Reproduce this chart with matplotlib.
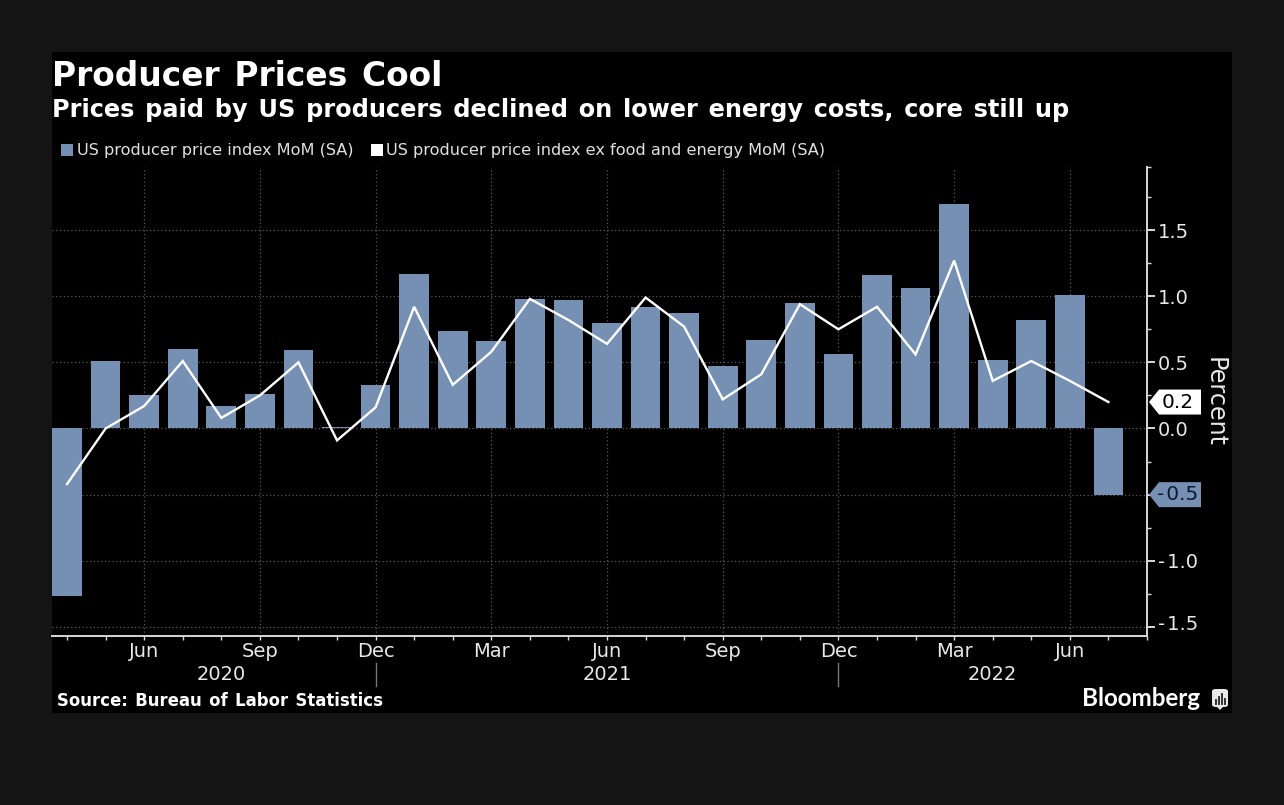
import matplotlib
matplotlib.use('Agg')
import matplotlib.pyplot as plt
from matplotlib.patches import Rectangle, Polygon, FancyBboxPatch
from matplotlib.lines import Line2D
from matplotlib.ticker import FixedLocator
from matplotlib.transforms import ScaledTranslation

W, H = 1284, 805

# monthly values, Apr 2020 to Jul 2022
ppi = [-1.27, 0.51, 0.25, 0.60, 0.17, 0.26, 0.59, 0.01, 0.33, 1.17, 0.74, 0.66, 0.98, 0.97,
       0.80, 0.92, 0.87, 0.47, 0.67, 0.95, 0.56, 1.16, 1.06, 1.70, 0.52, 0.82, 1.01, -0.50]
core = [-0.42, 0.0, 0.17, 0.51, 0.08, 0.25, 0.50, -0.09, 0.16, 0.92, 0.33, 0.58, 0.98, 0.82,
        0.64, 0.99, 0.77, 0.22, 0.41, 0.94, 0.75, 0.92, 0.56, 1.27, 0.36, 0.51, 0.36, 0.20]
month_pos = list(range(len(ppi)))
tick_pos = [2, 5, 8, 11, 14, 17, 20, 23, 26]
tick_labels = ['Jun', 'Sep', 'Dec', 'Mar', 'Jun', 'Sep', 'Dec', 'Mar', 'Jun']
y_ticks = [-1.5, -1.0, -0.5, 0.0, 0.5, 1.0, 1.5]
y_labels = ['-\u200a1.5', '-\u200a1.0', '', '0.0', '0.5', '1.0', '1.5']
y_minor = [-1.25, -0.75, -0.25, 0.25, 0.75, 1.25, 1.75, 1.977]
years = ['2020', '2021', '2022']
year_pixels = [221, 607, 992]
year_seps = [376, 838]

BLUE = '#7690b4'
LIGHT = '#d8d8d8'
GRID = '#5a5a5a'
HS = ' \u200a'

plt.rcParams['font.family'] = ['DejaVu Sans']
fig = plt.figure(figsize=(W / 100, H / 100), dpi=100, facecolor='#141414')


def ftext(x, y, s, **kw):
    return fig.text(x / W, 1 - y / H, s, **kw)


fig.patches.append(Rectangle((52 / W, 1 - 713 / H), 1180 / W, 661 / H, transform=fig.transFigure,
                             facecolor='black', edgecolor='none', zorder=-5))

ax = fig.add_axes([52 / W, 1 - 635.5 / H, 1095 / W, 468.5 / H], facecolor='black')
ax.bar(month_pos, ppi, width=0.77, color=BLUE, zorder=2)
ax.plot(month_pos, core, color='white', lw=1.7, zorder=3, solid_joinstyle='miter')
ax.set_xlim(-0.39, 28.0)
ax.set_ylim(-1.565, 1.977)

ax.yaxis.tick_right()
ax.set_yticks(y_ticks)
ax.set_yticklabels(y_labels)
ax.yaxis.set_minor_locator(FixedLocator(y_minor))
ax.tick_params(axis='y', which='major', length=6, width=1.4, color=LIGHT, labelcolor='#e8e8e8',
               labelsize=14, pad=2)
ax.tick_params(axis='y', which='minor', length=3, width=1, color=LIGHT)

ax.set_xticks(tick_pos)
ax.set_xticklabels(tick_labels)
ax.xaxis.set_minor_locator(FixedLocator(month_pos + [28]))
ax.tick_params(axis='x', which='major', length=3, width=1, color=LIGHT, labelcolor='#e8e8e8',
               labelsize=14, pad=2)
ax.tick_params(axis='x', which='minor', length=3, width=1, color=LIGHT)

ax.grid(True, which='major', color=GRID, ls=(0, (1, 2)), lw=0.9, zorder=1)
ax.set_axisbelow(True)
for side in ['left', 'top']:
    ax.spines[side].set_visible(False)
for side in ['right', 'bottom']:
    ax.spines[side].set_color(LIGHT)
    ax.spines[side].set_linewidth(1.4)

# the lowest tick label sits a little above its tick
low = ax.yaxis.get_major_ticks()[0].label2
low.set_transform(low.get_transform() + ScaledTranslation(0, 3 / 72, fig.dpi_scale_trans))

# titles and legend
ftext(52, 76, 'Producer Prices Cool'.replace(' ', HS), color='white', fontsize=23.7,
      fontweight='bold', va='center')
ftext(52, 110, 'Prices paid by US producers declined on lower energy costs, core still up'.replace(' ', HS),
      color='white', fontsize=17.3, fontweight='bold', va='center')
fig.patches.append(Rectangle((61 / W, 1 - 156 / H), 12 / W, 12 / H, transform=fig.transFigure,
                             facecolor=BLUE, edgecolor='none'))
ftext(77, 150, 'US producer price index MoM (SA)', color='#e0e0e0', fontsize=11.6, va='center')
fig.patches.append(Rectangle((371 / W, 1 - 156 / H), 12 / W, 12 / H, transform=fig.transFigure,
                             facecolor='white', edgecolor='none'))
ftext(386, 150, 'US producer price index ex food and energy MoM (SA)', color='#e0e0e0',
      fontsize=11.6, va='center')

# year row under the months
for label, px in zip(years, year_pixels):
    ftext(px, 674, label, color='#e8e8e8', fontsize=14, ha='center', va='center')
for px in year_seps:
    fig.add_artist(Line2D([px / W, px / W], [1 - 663 / H, 1 - 686 / H], color='#777777', lw=1))

ftext(1215, 402, 'Percent', color='#e8e8e8', fontsize=17.2, rotation=270, ha='center', va='center')
ftext(57, 701, 'Source: Bureau of Labor Statistics'.replace(' ', HS), color='white', fontsize=11.9,
      fontweight='bold', va='center')
ftext(1082, 698, 'Bloomberg', color='white', fontsize=17.4, fontweight='bold',
      family='Lato', va='center')


# last value tags on the right axis
def tag(value, label, face, txt):
    yc = ax.transData.transform((0, value))[1] / H
    h = 12.5 / H
    x0, x1, x2 = 1149 / W, 1159 / W, 1201 / W
    fig.add_artist(Polygon([(x0, yc), (x1, yc + h), (x2, yc + h), (x2, yc - h), (x1, yc - h)],
                           closed=True, transform=fig.transFigure, facecolor=face, edgecolor='none'))
    fig.text(1178 / W, yc, label, color=txt, fontsize=14.5, ha='center', va='center')


tag(core[-1], '0.2', 'white', 'black')
tag(ppi[-1], '-\u200a0.5', BLUE, '#0c1a33')

# logo mark
fig.add_artist(FancyBboxPatch((1212 / W, 1 - 707 / H), 16 / W, 18 / H,
                              boxstyle='round,pad=0,rounding_size=0.003',
                              transform=fig.transFigure, facecolor='#e8e8e8', edgecolor='none'))
fig.add_artist(Polygon([(1217 / W, 1 - 707 / H), (1223 / W, 1 - 707 / H), (1220 / W, 1 - 710 / H)],
                       transform=fig.transFigure, facecolor='#e8e8e8', edgecolor='none'))
for px, top in [(1215.5, 700), (1218.5, 697), (1221.5, 694), (1224.5, 699)]:
    fig.add_artist(Line2D([px / W, px / W], [1 - 704 / H, 1 - top / H], color='#222222', lw=1.3))

fig.savefig('out.png', dpi=100, facecolor=fig.get_facecolor())
